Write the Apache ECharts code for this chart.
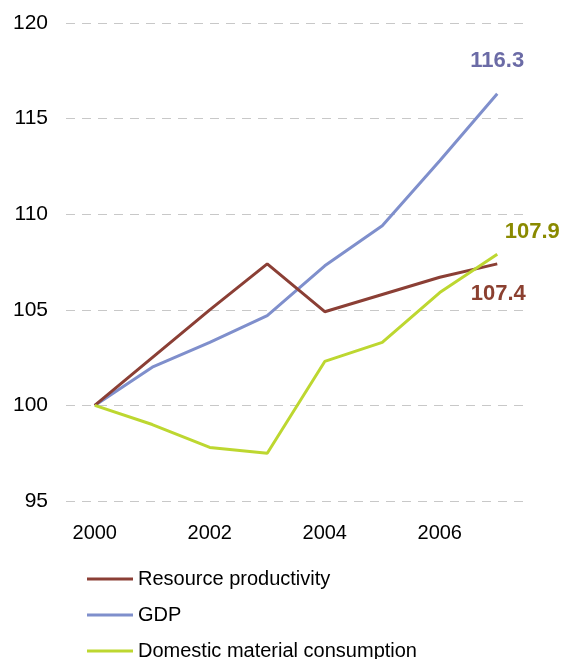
<!DOCTYPE html>
<html>
<head>
<meta charset="utf-8">
<script src="https://cdn.jsdelivr.net/npm/echarts@6/dist/echarts.min.js"></script>
<style>
  html, body { margin: 0; padding: 0; background: #fff; }
  #main { width: 561px; height: 659px; }
</style>
</head>
<body>
<div id="main"></div>
<script>
  // chart data
  var years = ['2000', '2001', '2002', '2003', '2004', '2005', '2006', '2007'];
  var resourceProductivity = [100, 102.5, 105.0, 107.4, 104.9, 105.8, 106.7, 107.4];
  var gdp = [100, 102.0, 103.3, 104.7, 107.3, 109.4, 112.8, 116.3];
  var dmc = [100, 99.0, 97.8, 97.5, 102.3, 103.3, 105.9, 107.9];
  var seriesNames = ['Resource productivity', 'GDP', 'Domestic material consumption'];

  var chart = echarts.init(document.getElementById('main'));

  // put a value label on the last point only
  function withEndLabel(values, label) {
    return values.map(function(v, i) {
      if (i !== values.length - 1) return v;
      return {
        value: v,
        symbol: 'circle',
        symbolSize: 0.1,
        label: label
      };
    });
  }

  var font = 'Liberation Sans, Arial, sans-serif';

  var option = {
    animation: false,
    grid: {
      left: 66,
      right: 35,
      top: 23,
      height: 478
    },
    xAxis: {
      type: 'category',
      data: years,
      boundaryGap: true,
      axisLine: { show: false },
      axisTick: { show: false },
      axisLabel: {
        interval: 1,
        color: '#000',
        fontSize: 20,
        fontFamily: font,
        margin: 22
      }
    },
    yAxis: {
      type: 'value',
      min: 95,
      max: 120,
      interval: 5,
      axisLine: { show: false },
      axisTick: { show: false },
      axisLabel: {
        color: '#000',
        fontSize: 21,
        fontFamily: font,
        margin: 18
      },
      splitLine: {
        lineStyle: { color: '#c8c8c8', type: [9, 7], width: 1 }
      }
    },
    legend: {
      orient: 'vertical',
      left: 87,
      top: 569,
      height: 110,
      padding: 0,
      icon: 'rect',
      itemWidth: 46,
      itemHeight: 3,
      itemGap: 16,
      data: seriesNames,
      textStyle: {
        color: '#000',
        fontSize: 20,
        fontFamily: font,
        lineHeight: 20
      }
    },
    series: [{
      name: seriesNames[0],
      type: 'line',
      symbol: 'none',
      color: '#8b3f35',
      lineStyle: { width: 3, color: '#8b3f35' },
      z: 3,
      data: withEndLabel(resourceProductivity, {
        show: true,
        position: 'bottom',
        distance: 19,
        offset: [1, 0],
        color: '#8b4030',
        fontSize: 22,
        fontWeight: 'bold',
        fontFamily: font
      })
    }, {
      name: seriesNames[1],
      type: 'line',
      symbol: 'none',
      color: '#7f8fcc',
      lineStyle: { width: 3, color: '#7f8fcc' },
      z: 2,
      data: withEndLabel(gdp, {
        show: true,
        position: 'top',
        distance: 22,
        color: '#6b6ba6',
        fontSize: 22,
        fontWeight: 'bold',
        fontFamily: font
      })
    }, {
      name: seriesNames[2],
      type: 'line',
      symbol: 'none',
      color: '#bdd730',
      lineStyle: { width: 3, color: '#bdd730' },
      z: 4,
      data: withEndLabel(dmc, {
        show: true,
        position: 'top',
        distance: 11,
        offset: [35, 0],
        color: '#8a8a00',
        fontSize: 22,
        fontWeight: 'bold',
        fontFamily: font
      })
    }]
  };

  chart.setOption(option);
</script>
</body>
</html>
